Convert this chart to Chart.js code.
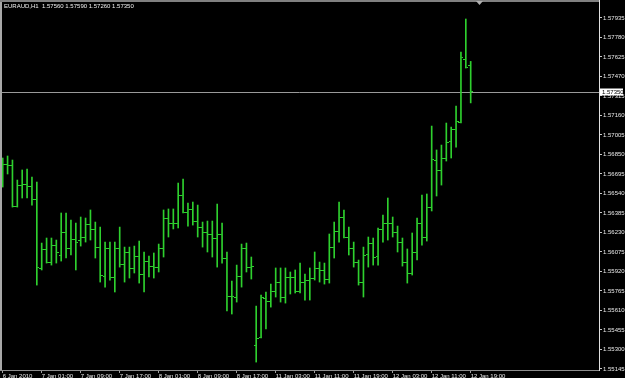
<!DOCTYPE html>
<html><head><meta charset="utf-8">
<script src="https://cdn.jsdelivr.net/npm/chart.js@4.4.1/dist/chart.umd.min.js"></script>
<style>html,body{margin:0;padding:0;background:#000;overflow:hidden}canvas{display:block}</style>
</head><body>
<canvas id="c" width="625" height="378"></canvas>
<script>
const symbol = 'EURAUD,H1';
const opens = [1.56782,1.56774,1.56766,1.56440,1.56607,1.56615,1.56599,1.56496,1.55940,1.56091,
 1.55995,1.56130,1.56051,1.56226,1.56099,1.56178,1.56170,1.56194,1.56297,1.56250,
 1.56114,1.55884,1.56099,1.55876,1.56099,1.55979,1.56067,1.55940,1.56043,1.55900,
 1.56003,1.55963,1.55955,1.56099,1.56345,1.56305,1.56305,1.56528,1.56385,1.56409,
 1.56321,1.56273,1.56226,1.56218,1.56186,1.56218,1.56027,1.55725,1.55717,1.55884,
 1.56099,1.55955,1.55335,1.55399,1.55709,1.55685,1.55757,1.55836,1.55717,1.55876,
 1.55876,1.55757,1.55836,1.55852,1.55868,1.55940,1.55924,1.55860,1.56114,1.56234,
 1.56353,1.56194,1.56099,1.55995,1.55836,1.56059,1.56146,1.56043,1.56250,1.56305,
 1.56305,1.56226,1.56154,1.55995,1.55908,1.56067,1.56305,1.56194,1.56425,1.56806,
 1.56719,1.56822,1.56957,1.57045,1.57108,1.57609,1.57560];
const highs = [1.56822,1.56838,1.56806,1.56647,1.56727,1.56735,1.56671,1.56631,1.56146,1.56186,
 1.56186,1.56170,1.56385,1.56385,1.56329,1.56305,1.56353,1.56345,1.56409,1.56313,
 1.56273,1.56154,1.56154,1.56154,1.56273,1.56114,1.56114,1.56122,1.56162,1.56075,
 1.56043,1.56067,1.56138,1.56409,1.56417,1.56417,1.56623,1.56655,1.56464,1.56472,
 1.56448,1.56313,1.56321,1.56321,1.56456,1.56305,1.56075,1.55844,1.55971,1.56138,
 1.56146,1.56035,1.55645,1.55733,1.55757,1.55820,1.55948,1.55948,1.55948,1.55916,
 1.55932,1.55987,1.55900,1.55948,1.56075,1.55995,1.55987,1.56218,1.56313,1.56472,
 1.56409,1.56273,1.56154,1.56011,1.56114,1.56194,1.56186,1.56266,1.56369,1.56504,
 1.56353,1.56281,1.56186,1.56099,1.56226,1.56345,1.56528,1.56536,1.57076,1.56886,
 1.56925,1.57100,1.57068,1.57235,1.57665,1.57927,1.57590];
const lows = [1.56591,1.56695,1.56432,1.56432,1.56504,1.56504,1.56448,1.55812,1.55932,1.55987,
 1.55971,1.55987,1.56003,1.56027,1.56051,1.55932,1.56122,1.56154,1.56170,1.56027,
 1.55836,1.55796,1.55852,1.55757,1.55955,1.55836,1.55868,1.55908,1.55828,1.55757,
 1.55876,1.55868,1.55916,1.56035,1.56194,1.56258,1.56266,1.56385,1.56281,1.56289,
 1.56194,1.56114,1.56075,1.56035,1.55955,1.55987,1.55606,1.55582,1.55677,1.55796,
 1.55916,1.55860,1.55200,1.55391,1.55463,1.55637,1.55717,1.55677,1.55669,1.55741,
 1.55749,1.55749,1.55693,1.55693,1.55852,1.55836,1.55820,1.55828,1.56027,1.56154,
 1.56186,1.56051,1.55955,1.55812,1.55717,1.55955,1.55971,1.55971,1.56154,1.56170,
 1.56194,1.56075,1.55963,1.55828,1.55892,1.56011,1.56130,1.56162,1.56401,1.56520,
 1.56607,1.56798,1.56822,1.56909,1.57100,1.57537,1.57260];
const closes = [1.56774,1.56766,1.56440,1.56607,1.56615,1.56599,1.56496,1.55948,1.56091,1.55995,
 1.56130,1.56067,1.56226,1.56099,1.56178,1.56154,1.56194,1.56297,1.56250,1.56114,
 1.55892,1.56099,1.55876,1.56099,1.55979,1.56067,1.55940,1.56043,1.55900,1.56003,
 1.55963,1.55955,1.56099,1.56345,1.56305,1.56305,1.56528,1.56385,1.56409,1.56321,
 1.56273,1.56226,1.56218,1.56186,1.56218,1.56027,1.55725,1.55725,1.55884,1.56099,
 1.55955,1.55963,1.55391,1.55717,1.55685,1.55757,1.55836,1.55717,1.55876,1.55876,
 1.55757,1.55836,1.55852,1.55868,1.55940,1.55924,1.55860,1.56114,1.56234,1.56353,
 1.56194,1.56099,1.55995,1.55836,1.56051,1.56146,1.56035,1.56250,1.56305,1.56305,
 1.56226,1.56154,1.55995,1.55908,1.56067,1.56305,1.56194,1.56432,1.56814,1.56719,
 1.56822,1.56949,1.57045,1.57116,1.57617,1.57545,1.57350];
const xTickLabels = ['6 Jan 2010','7 Jan 01:00','7 Jan 09:00','7 Jan 17:00','8 Jan 01:00','8 Jan 09:00','8 Jan 17:00','11 Jan 03:00','11 Jan 11:00','11 Jan 19:00','12 Jan 03:00','12 Jan 11:00','12 Jan 19:00'];
const xTickBars = [0,8,16,24,32,40,48,56,64,72,80,88,96];
const yTickValues = [1.55145,1.55300,1.55455,1.55610,1.55765,1.55920,1.56075,1.56230,1.56385,1.56540,1.56695,1.56850,1.57005,1.57160,1.57315,1.57470,1.57625,1.57780,1.57935];

const GREEN = '#2ed02e';
const FONT = {family: "'Liberation Sans', Arial, sans-serif", size: 6};
function tickCanvas(left) {
  const c = document.createElement('canvas'); c.width = 5; c.height = 1;
  const g = c.getContext('2d'); g.fillStyle = GREEN; g.fillRect(left ? 0 : 3, 0, 2, 1);
  return c;
}
const idx = opens.map((_, i) => i);
const last = opens.length - 1;

const overlay = {
  id: 'overlay',
  beforeDraw(chart) {
    const c = chart.ctx; c.save(); c.fillStyle = '#000'; c.fillRect(0, 0, chart.width, chart.height); c.restore();
  },
  beforeDatasetsDraw(chart) {
    const c = chart.ctx, a = chart.chartArea;
    const y = Math.round(chart.scales.y.getPixelForValue(closes[last])) + 0.5;
    c.save(); c.strokeStyle = '#9a9a9a'; c.lineWidth = 1;
    c.beginPath(); c.moveTo(a.left, y); c.lineTo(a.right, y); c.stroke(); c.restore();
  },
  afterDraw(chart) {
    const c = chart.ctx, a = chart.chartArea;
    c.save();
    c.fillStyle = '#a8a8a8'; c.fillRect(0, 0, 2, a.bottom);
    c.fillStyle = '#808080'; c.fillRect(0, 0, a.right, 2);
    c.fillStyle = '#b0b0b0'; c.beginPath(); c.moveTo(476, 1); c.lineTo(483, 1); c.lineTo(479.5, 5); c.closePath(); c.fill();
    c.font = "6px 'Liberation Sans', Arial, sans-serif"; c.fillStyle = '#f0f0f0'; c.textBaseline = 'middle'; c.textAlign = 'left';
    c.fillText(symbol + '  ' + opens[last].toFixed(5) + ' ' + highs[last].toFixed(5) + ' ' + lows[last].toFixed(5) + ' ' + closes[last].toFixed(5), 4, 6);
    const y = chart.scales.y.getPixelForValue(closes[last]);
    c.fillStyle = '#ffffff'; c.fillRect(a.right + 1, Math.round(y) - 3.5, 23, 7);
    c.fillStyle = '#000000'; c.fillText(closes[last].toFixed(5), a.right + 3, Math.round(y) + 0.5);
    c.restore();
  }
};

new Chart(document.getElementById('c'), {
  data: {
    datasets: [
      {type: 'bar', data: idx.map(i => ({x: i, y: [lows[i], highs[i]]})), backgroundColor: GREEN, barThickness: 1, borderWidth: 0},
      {type: 'line', data: idx.map(i => ({x: i, y: opens[i]})), showLine: false, pointStyle: tickCanvas(true), pointRadius: 2, pointHoverRadius: 2},
      {type: 'line', data: idx.map(i => ({x: i, y: closes[i]})), showLine: false, pointStyle: tickCanvas(false), pointRadius: 2, pointHoverRadius: 2}
    ]
  },
  options: {
    responsive: false, animation: false, devicePixelRatio: 1,
    layout: {padding: 0, autoPadding: false},
    plugins: {legend: {display: false}, tooltip: {enabled: false}},
    scales: {
      x: {
        type: 'linear', position: 'bottom', min: -0.554, max: 122.32, bounds: 'data', offset: false,
        afterBuildTicks: s => { s.ticks = xTickBars.map(v => ({value: v})); },
        afterFit: s => { s.height = 8; s.paddingLeft = 0; s.paddingRight = 0; },
        ticks: {autoSkip: false, maxRotation: 0, minRotation: 0, align: 'start', padding: 0, color: '#e8e8e8', font: FONT,
          callback: (v, i) => xTickLabels[i]},
        grid: {drawOnChartArea: false, drawTicks: true, tickLength: 3, color: '#a0a0a0', offset: false},
        border: {display: true, color: '#8c8c8c'}
      },
      y: {
        type: 'linear', position: 'right', min: 1.55137, max: 1.58078, bounds: 'data',
        afterBuildTicks: s => { s.ticks = yTickValues.map(v => ({value: v})); },
        afterFit: s => { s.width = 26; s.paddingTop = 0; s.paddingBottom = 0; },
        ticks: {crossAlign: 'near', padding: 1, color: '#e8e8e8', font: FONT,
          callback: (v, i) => yTickValues[i].toFixed(5)},
        grid: {drawOnChartArea: false, drawTicks: true, tickLength: 3, color: '#c8c8c8'},
        border: {display: true, color: '#e0e0e0'}
      }
    }
  },
  plugins: [overlay]
});
</script>
</body></html>
